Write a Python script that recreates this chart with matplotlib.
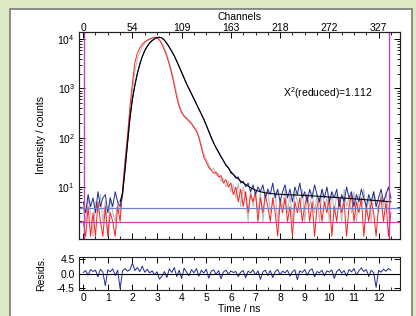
import numpy as np
import matplotlib
matplotlib.use("Agg")
import matplotlib.pyplot as plt
from matplotlib.patches import Rectangle
from matplotlib.ticker import LogLocator, MultipleLocator, NullFormatter

plt.rcParams['font.family'] = ['Liberation Sans', 'DejaVu Sans']
plt.rcParams['mathtext.default'] = 'regular'

# ---- data (time grid: 0.0 ... 12.5 ns in 0.1 ns steps) ----
step_ns = 0.1
irf_counts = [2, 1, 4, 1, 3, 1, 5, 2, 1, 4, 1, 3, 2, 1, 4, 2,
              9, 35, 110, 420, 1250, 3300, 5200, 6600, 7800, 8800, 9500, 10000, 10500, 10900,
              10700, 9500, 7800, 6000, 4400, 3000, 1900, 1150, 650, 420,
              320, 270, 240, 215, 190, 160, 135, 100, 63, 40,
              32, 25, 22, 19, 20, 16, 17, 12, 14, 10,
              12, 7, 10, 5, 9, 4, 8, 3, 7, 5,
              8, 2, 6, 3, 7, 4, 2, 6, 3, 1,
              5, 3, 6, 2, 4, 1, 5, 3, 6, 2,
              4, 7, 2, 5, 1, 4, 6, 2, 5, 3,
              6, 1, 4, 2, 6, 3, 5, 1, 4, 7,
              2, 5, 3, 6, 1, 4, 2, 5, 3, 1,
              4, 6, 2, 5, 1, 3]
decay_counts = [5, 3, 7, 4, 6, 3, 8, 4, 6, 7, 3, 6, 4, 8, 5, 4,
                7, 22, 75, 250, 600, 1150, 2000, 3100, 4400, 5800, 7100, 8300, 9300, 10100,
                10700, 10900, 10500, 9500, 8100, 6800, 5600, 4600, 3550, 2750,
                2100, 1600, 1230, 980, 780, 620, 480, 380, 300, 240,
                178, 135, 100, 78, 62, 52, 41, 34, 27, 25,
                19, 18, 15, 16, 12, 13, 10, 12, 8, 11,
                7, 10, 8, 11, 6, 9, 7, 12, 6, 9,
                5, 8, 11, 6, 9, 5, 10, 7, 12, 6,
                8, 5, 9, 6, 11, 7, 5, 9, 6, 10,
                5, 8, 6, 9, 4, 7, 5, 10, 6, 8,
                4, 7, 5, 9, 6, 4, 7, 5, 8, 4,
                6, 9, 5, 7, 10, 6]
gray_counts = [4, 2, 6, 3, 1, 5, 3, 7, 2, 5, 1, 6, 3, 2, 5, 3,
               8, 28, 90, 330, 900, 2200, 3900, 5400, 6900, 8200, 9200, 9900, 10400, 10800,
               10800, 9900, 8300, 6500, 4900, 3400, 2200, 1350, 780, 480,
               350, 285, 250, 225, 200, 170, 145, 110, 70, 48,
               36, 29, 22, 24, 17, 19, 13, 15, 10, 13,
               8, 11, 6, 12, 4, 10, 6, 2, 9, 4,
               7, 3, 8, 2, 6, 9, 3, 5, 8, 2,
               6, 4, 9, 3, 7, 2, 8, 5, 3, 9,
               2, 6, 4, 8, 3, 7, 2, 9, 4, 6,
               2, 8, 3, 7, 5, 2, 9, 4, 6, 3,
               8, 2, 7, 4, 9, 3, 6, 2, 8, 5,
               3, 7, 4, 8, 3, 6]
fit_start_ns = 1.5
fit_counts = [5, 7.5, 23, 77, 250, 610, 1160, 2000, 3100, 4400, 5800, 7100, 8300, 9300, 10100,
              10650, 10850, 10500, 9500, 8150, 6800, 5600, 4550, 3550, 2750,
              2100, 1620, 1240, 970, 770, 610, 480, 380, 300, 235,
              180, 135, 102, 78, 62, 50, 41, 34, 28, 24,
              20.5, 18, 16, 14.5, 13.2, 12.1, 11.2, 10.4, 9.7, 9.1,
              8.6, 8.3, 8.0, 7.8, 7.6, 7.5, 7.4, 7.3, 7.2, 7.15,
              7.1, 7.05, 7.0, 6.98, 6.95, 6.9, 6.88, 6.85, 6.8, 6.78,
              6.75, 6.7, 6.65, 6.6, 6.55, 6.5, 6.45, 6.4, 6.35, 6.3,
              6.25, 6.2, 6.15, 6.1, 6.05, 6.0, 5.95, 5.9, 5.85, 5.8,
              5.75, 5.7, 5.65, 5.6, 5.55, 5.5, 5.45, 5.4, 5.35, 5.3,
              5.25, 5.2, 5.15, 5.1, 5.05, 5.0]
residuals = [0.3, 0.9, -0.5, 1.2, 0.6, 1.0, -1.0, 1.3, 0.4, -3.7,
             1.1, 0.5, 1.4, -0.6, 1.0, -4.6, 0.8, 1.5, 0.7, 1.2,
             3.1, 0.9, 1.8, 0.6, 2.2, 0.4, 1.3, 0.2, 0.8, -0.4,
             0.5, -1.7, -0.8, 0.6, -1.2, 1.4, 0.3, 1.8, -0.9, 1.0,
             -1.5, 1.6, 0.4, -0.7, 1.2, 0.2, 1.5, -0.8, 1.0, 0.1,
             1.3, -1.4, 0.7, 1.1, -0.3, 0.9, -1.6, 0.5, 1.0, -0.2,
             0.8, 0.3, 0.6, -0.9, 0.4, 0.9, -1.3, 0.7, 0.2, 1.1,
             -0.4, 0.8, -1.8, 0.5, 1.0, -0.6, 0.9, -1.2, 0.6, 1.2,
             -0.3, 0.7, 0.2, 1.0, -0.8, 0.5, 1.1, -1.9, 0.8, 0.3,
             1.2, -0.5, 0.9, 1.4, -1.0, 0.6, 0.2, 1.0, -0.7, 0.8,
             0.4, 1.1, -1.5, 0.6, 1.3, 0.1, 0.9, -0.8, 1.2, 0.5,
             1.5, -0.4, 0.8, 1.7, 0.6, 1.2, -0.9, 1.0, 0.3, -4.2,
             0.9, 0.4, 1.3, 0.7, 1.5, 1.0]
upper_level = 3.8      # blue horizontal marker
lower_level = 1.95     # magenta horizontal marker
range_start_ns = 0.05
range_end_ns = 12.44
chi2_text = 'X$^{2}$(reduced)=1.112'
time_ticks = [0, 1, 2, 3, 4, 5, 6, 7, 8, 9, 10, 11, 12]
channel_tick_ns = [0, 2, 4, 6, 8, 10, 12]
channel_labels = ['0', '54', '109', '163', '218', '272', '327']
resid_ticks = [-4.5, 0.0, 4.5]
resid_labels = ['-4.5', '0.0', '4.5']

t = np.arange(len(decay_counts)) * step_ns
t_fit = fit_start_ns + np.arange(len(fit_counts)) * step_ns

# ---- figure ----
W, H = 416, 316
fig = plt.figure(figsize=(W / 100, H / 100), dpi=100)
fig.patch.set_facecolor('#dde9c5')
fig.patches.append(Rectangle((10 / W, -0.02), 402 / W, 1 - 9 / H + 0.02,
                             transform=fig.transFigure, facecolor='white',
                             edgecolor='#7a7a7a', linewidth=1.2, zorder=-10))

fs = 7.5
ax = fig.add_axes([79 / W, 1 - 239 / H, 321 / W, 207 / H])
axr = fig.add_axes([79 / W, 1 - 290 / H, 321 / W, 33 / H])

xlim = (-0.17, 12.87)

ax.plot(t, gray_counts, color='#bdbdbd', lw=0.8, zorder=2)
ax.plot(t, irf_counts, color='#ff2020', lw=0.7, zorder=3)
ax.plot(t, decay_counts, color='#1c2a96', lw=0.7, zorder=4)
ax.plot(t_fit, fit_counts, color='black', lw=0.8, zorder=5)
ax.axhline(upper_level, color='#6f80cf', lw=0.9, zorder=6)
ax.axhline(lower_level, color='#cc3fae', lw=0.9, zorder=6)
ax.axvline(range_start_ns, color='#cc3fae', lw=1.0, zorder=6)
ax.axvline(range_end_ns, color='#cc3fae', lw=1.0, zorder=6)

ax.set_yscale('log')
ax.set_ylim(0.88, 13900)
ax.set_xlim(*xlim)
ax.yaxis.set_minor_locator(LogLocator(base=10, subs=np.arange(2, 10), numticks=20))
ax.yaxis.set_minor_formatter(NullFormatter())
ax.set_yticks([10, 100, 1000, 10000])
ax.set_yticklabels([r'$10^{1}$', r'$10^{2}$', r'$10^{3}$', r'$10^{4}$'])
ax.xaxis.set_major_locator(MultipleLocator(1))
ax.xaxis.set_minor_locator(MultipleLocator(0.5))
ax.tick_params(axis='x', which='both', direction='in', bottom=True, top=False, labelbottom=False)
ax.tick_params(axis='y', which='both', direction='in', left=True, right=True, labelsize=fs, pad=3)
ax.tick_params(which='major', length=4, width=0.7)
ax.tick_params(which='minor', length=2, width=0.6)
ax.set_ylabel('Intensity / counts', fontsize=fs)
ax.text(0.635, 0.705, chi2_text, transform=ax.transAxes, fontsize=fs, ha='left', va='center')

axt = ax.twiny()
axt.set_xlim(*xlim)
axt.set_xticks(channel_tick_ns)
axt.set_xticklabels(channel_labels)
axt.xaxis.set_minor_locator(MultipleLocator(0.5))
axt.tick_params(axis='x', which='both', direction='in', labelsize=fs, pad=-0.5)
axt.tick_params(which='major', length=4, width=0.7)
axt.tick_params(which='minor', length=2.5, width=0.6)
axt.set_xlabel('Channels', fontsize=fs, labelpad=2)

axr.plot(t, residuals, color='#1c2a96', lw=0.7)
axr.axhline(0, color='black', lw=0.8)
axr.set_xlim(*xlim)
axr.set_ylim(-5.0, 5.0)
axr.set_yticks(resid_ticks)
axr.set_yticklabels(resid_labels)
axr.set_xticks(time_ticks)
axr.xaxis.set_minor_locator(MultipleLocator(0.5))
axr.tick_params(axis='both', which='both', direction='in', top=True, right=True, labelsize=fs)
axr.tick_params(axis='x', pad=2.5)
axr.tick_params(axis='y', pad=3)
axr.tick_params(which='major', length=4, width=0.7)
axr.tick_params(which='minor', length=2.5, width=0.6)
axr.set_xlabel('Time / ns', fontsize=fs, labelpad=0.5)
axr.set_ylabel('Resids.', fontsize=fs)

for a in (ax, axr, axt):
    for s in a.spines.values():
        s.set_linewidth(0.8)
        s.set_color('#222222')

ax.yaxis.set_label_coords(-0.102, 0.5)
axr.yaxis.set_label_coords(-0.102, 0.5)

fig.savefig('out.png', dpi=100, facecolor=fig.get_facecolor())
